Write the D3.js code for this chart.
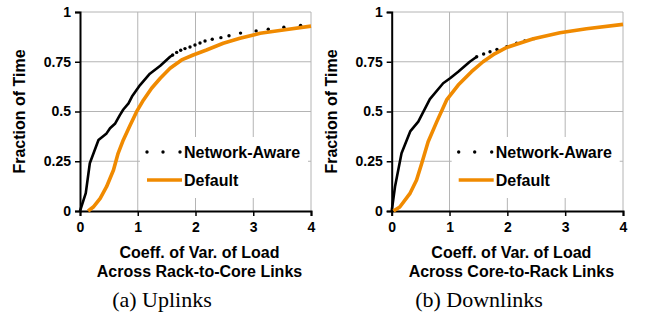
<!DOCTYPE html>
<html>
<head>
<meta charset="utf-8">
<script src="https://cdn.jsdelivr.net/npm/d3@7"></script>
<style>
  body { margin: 0; background: #fff; }
  text { font-family: "Liberation Sans", Arial, sans-serif; font-weight: bold; fill: #000; }
  .caption { font-family: "Liberation Serif", "Times New Roman", serif; font-weight: normal; }
</style>
</head>
<body>
<div id="chart-area"></div>
<script>
// DATA ([coeff. of variation, fraction of time])

const xTicks = [0, 1, 2, 3, 4]
const yTicks = [0, 0.25, 0.5, 0.75, 1]
const yTickLabels = ["0", "0.25", "0.5", "0.75", "1"]
const seriesNames = ["Network-Aware", "Default"]
const axisTitles = [
  ["Coeff. of Var. of Load", "Across Rack-to-Core Links"],
  ["Coeff. of Var. of Load", "Across Core-to-Rack Links"]
]
const captions = ["(a) Uplinks", "(b) Downlinks"]
const yTitle = "Fraction of Time"

// (a) Uplinks
const upAware = [
  [0, 0], [0.10, 0.09], [0.17, 0.24], [0.32, 0.357], [0.46, 0.39], [0.52, 0.416],
  [0.61, 0.44], [0.69, 0.482], [0.75, 0.51], [0.84, 0.541], [0.90, 0.575],
  [1.04, 0.633], [1.21, 0.69], [1.39, 0.73], [1.56, 0.775], [1.605, 0.784],
  [1.674, 0.797], [1.744, 0.808], [1.818, 0.816], [1.905, 0.824], [1.991, 0.834],
  [2.078, 0.844], [2.165, 0.854], [2.29, 0.863], [2.44, 0.871], [2.58, 0.881],
  [2.78, 0.894], [3.05, 0.905], [3.26, 0.913], [3.53, 0.923], [3.82, 0.933]
]
const upDefault = [
  [0.14, 0], [0.23, 0.02], [0.35, 0.064], [0.46, 0.122], [0.58, 0.206], [0.66, 0.29],
  [0.75, 0.357], [0.87, 0.432], [0.98, 0.499], [1.10, 0.558], [1.24, 0.617],
  [1.39, 0.667], [1.56, 0.717], [1.76, 0.759], [1.96, 0.784], [2.19, 0.809],
  [2.48, 0.843], [2.77, 0.868], [3.12, 0.893], [3.52, 0.91], [4.0, 0.929]
]

// (b) Downlinks
const downAware = [
  [0, 0], [0.057, 0.122], [0.17, 0.29], [0.32, 0.40], [0.46, 0.449],
  [0.66, 0.562], [0.89, 0.642], [1.01, 0.667], [1.15, 0.70], [1.35, 0.75],
  [1.47, 0.775], [1.59, 0.789], [1.70, 0.80], [1.82, 0.812], [1.99, 0.826],
  [2.16, 0.843], [2.30, 0.855], [2.46, 0.866]
]
const downDefault = [
  [0.03, 0], [0.14, 0.02], [0.32, 0.09], [0.43, 0.156], [0.52, 0.24], [0.63, 0.348],
  [0.78, 0.449], [0.95, 0.558], [1.15, 0.633], [1.38, 0.70], [1.58, 0.75],
  [1.78, 0.79], [1.99, 0.822], [2.45, 0.866], [2.91, 0.896], [3.37, 0.916], [4.0, 0.938]
]

// where the black series stops looking solid and turns into separate dots
const solidUntil = [0.78, 0.77]

// LAYOUT

const W = 646, H = 322
const yRange = [211, 12]
const panels = [
  { x0: 80, x1: 311, aware: upAware, def: upDefault },
  { x0: 391.7, x1: 623, aware: downAware, def: downDefault }
]

const svg = d3.select("#chart-area")
  .append("svg")
    .attr("width", W)
    .attr("height", H)

panels.forEach((p, i) => {
  const g = svg.append("g").attr("class", "panel-" + i)

  const xScale = d3.scaleLinear().domain([0, 4]).range([p.x0, p.x1])
  const yScale = d3.scaleLinear().domain([0, 1]).range(yRange)

  // gridlines
  g.selectAll(".hgrid").data(yTicks.slice(1)).enter()
    .append("line")
      .attr("x1", p.x0).attr("x2", p.x1)
      .attr("y1", d => yScale(d)).attr("y2", d => yScale(d))
      .attr("stroke", "#b4b4b4").attr("stroke-width", 1)
  g.selectAll(".vgrid").data(xTicks.slice(1)).enter()
    .append("line")
      .attr("x1", d => xScale(d)).attr("x2", d => xScale(d))
      .attr("y1", yRange[0]).attr("y2", yRange[1])
      .attr("stroke", "#b4b4b4").attr("stroke-width", 1)

  // axes
  const xAxisCall = d3.axisBottom(xScale).tickValues(xTicks).tickSize(5).tickFormat(d3.format("d"))
  const xAxis = g.append("g")
    .attr("transform", "translate(0," + yRange[0] + ")")
    .call(xAxisCall)
  const yAxisCall = d3.axisLeft(yScale).tickValues(yTicks).tickSize(5)
    .tickFormat((d, k) => yTickLabels[k])
  const yAxis = g.append("g")
    .attr("transform", "translate(" + p.x0 + ",0)")
    .call(yAxisCall)

  ;[xAxis, yAxis].forEach(a => {
    a.select(".domain").attr("stroke", "#000").attr("stroke-width", 2)
    a.selectAll(".tick line").attr("stroke", "#000").attr("stroke-width", 1.5)
    a.selectAll(".tick text").attr("font-size", "14px")
      .attr("font-family", "'Liberation Sans', Arial, sans-serif").attr("font-weight", "bold")
      .attr("fill", "#000")
  })
  xAxis.selectAll(".tick text").attr("y", 11)
  yAxis.selectAll(".tick text").attr("x", -9)

  // legend box (white, covers gridlines)
  const lx = p.x0 + 60
  g.append("rect")
    .attr("x", lx).attr("y", 137).attr("width", 168).attr("height", 61)
    .attr("fill", "#fff")

  // series: solid where the points crowd together, separate dots after that
  const line = d3.line().x(d => xScale(d[0])).y(d => yScale(d[1])).curve(d3.curveLinear)
  const firstDot = p.aware.findIndex(d => d[1] > solidUntil[i])
  const solidPart = p.aware.slice(0, firstDot + 1)
  const dotPart = p.aware.slice(firstDot)
  g.append("path")
    .datum(solidPart)
    .attr("d", line)
    .attr("fill", "none").attr("stroke", "#000").attr("stroke-width", 2.6)
    .attr("stroke-linejoin", "round")
  g.selectAll(".dot").data(dotPart).enter()
    .append("circle")
      .attr("cx", d => xScale(d[0])).attr("cy", d => yScale(d[1]))
      .attr("r", 1.7).attr("fill", "#000")
  g.append("path")
    .datum(p.def)
    .attr("d", line)
    .attr("fill", "none").attr("stroke", "#f08a00").attr("stroke-width", 3.6)
    .attr("stroke-linejoin", "round")

  // legend
  const lg = g.append("g").attr("transform", "translate(" + (lx + 7) + ",0)")
  ;[0, 16, 33].forEach(dx => {
    lg.append("circle").attr("cx", dx).attr("cy", 152).attr("r", 1.7).attr("fill", "#000")
  })
  lg.append("text").attr("x", 37).attr("y", 158).attr("font-size", "16px").text(seriesNames[0])
  lg.append("line").attr("x1", 0).attr("x2", 35).attr("y1", 180).attr("y2", 180)
    .attr("stroke", "#f08a00").attr("stroke-width", 3.6)
  lg.append("text").attr("x", 37).attr("y", 186).attr("font-size", "16px").text(seriesNames[1])

  // y axis title
  g.append("text")
    .attr("transform", "translate(" + (p.x0 - 55) + "," + ((yRange[0] + yRange[1]) / 2) + ") rotate(-90)")
    .attr("text-anchor", "middle")
    .attr("font-size", "16px")
    .text(yTitle)

  // x axis title (two lines)
  const cx = (p.x0 + p.x1) / 2 + 4
  axisTitles[i].forEach((t, k) => {
    g.append("text")
      .attr("x", cx).attr("y", 258 + k * 19)
      .attr("text-anchor", "middle")
      .attr("font-size", "16px")
      .text(t)
  })

  // caption
  g.append("text")
    .attr("class", "caption")
    .attr("x", i === 0 ? 162 : 479).attr("y", 307)
    .attr("text-anchor", "middle")
    .attr("font-size", "22px")
    .text(captions[i])
})
</script>
</body>
</html>
